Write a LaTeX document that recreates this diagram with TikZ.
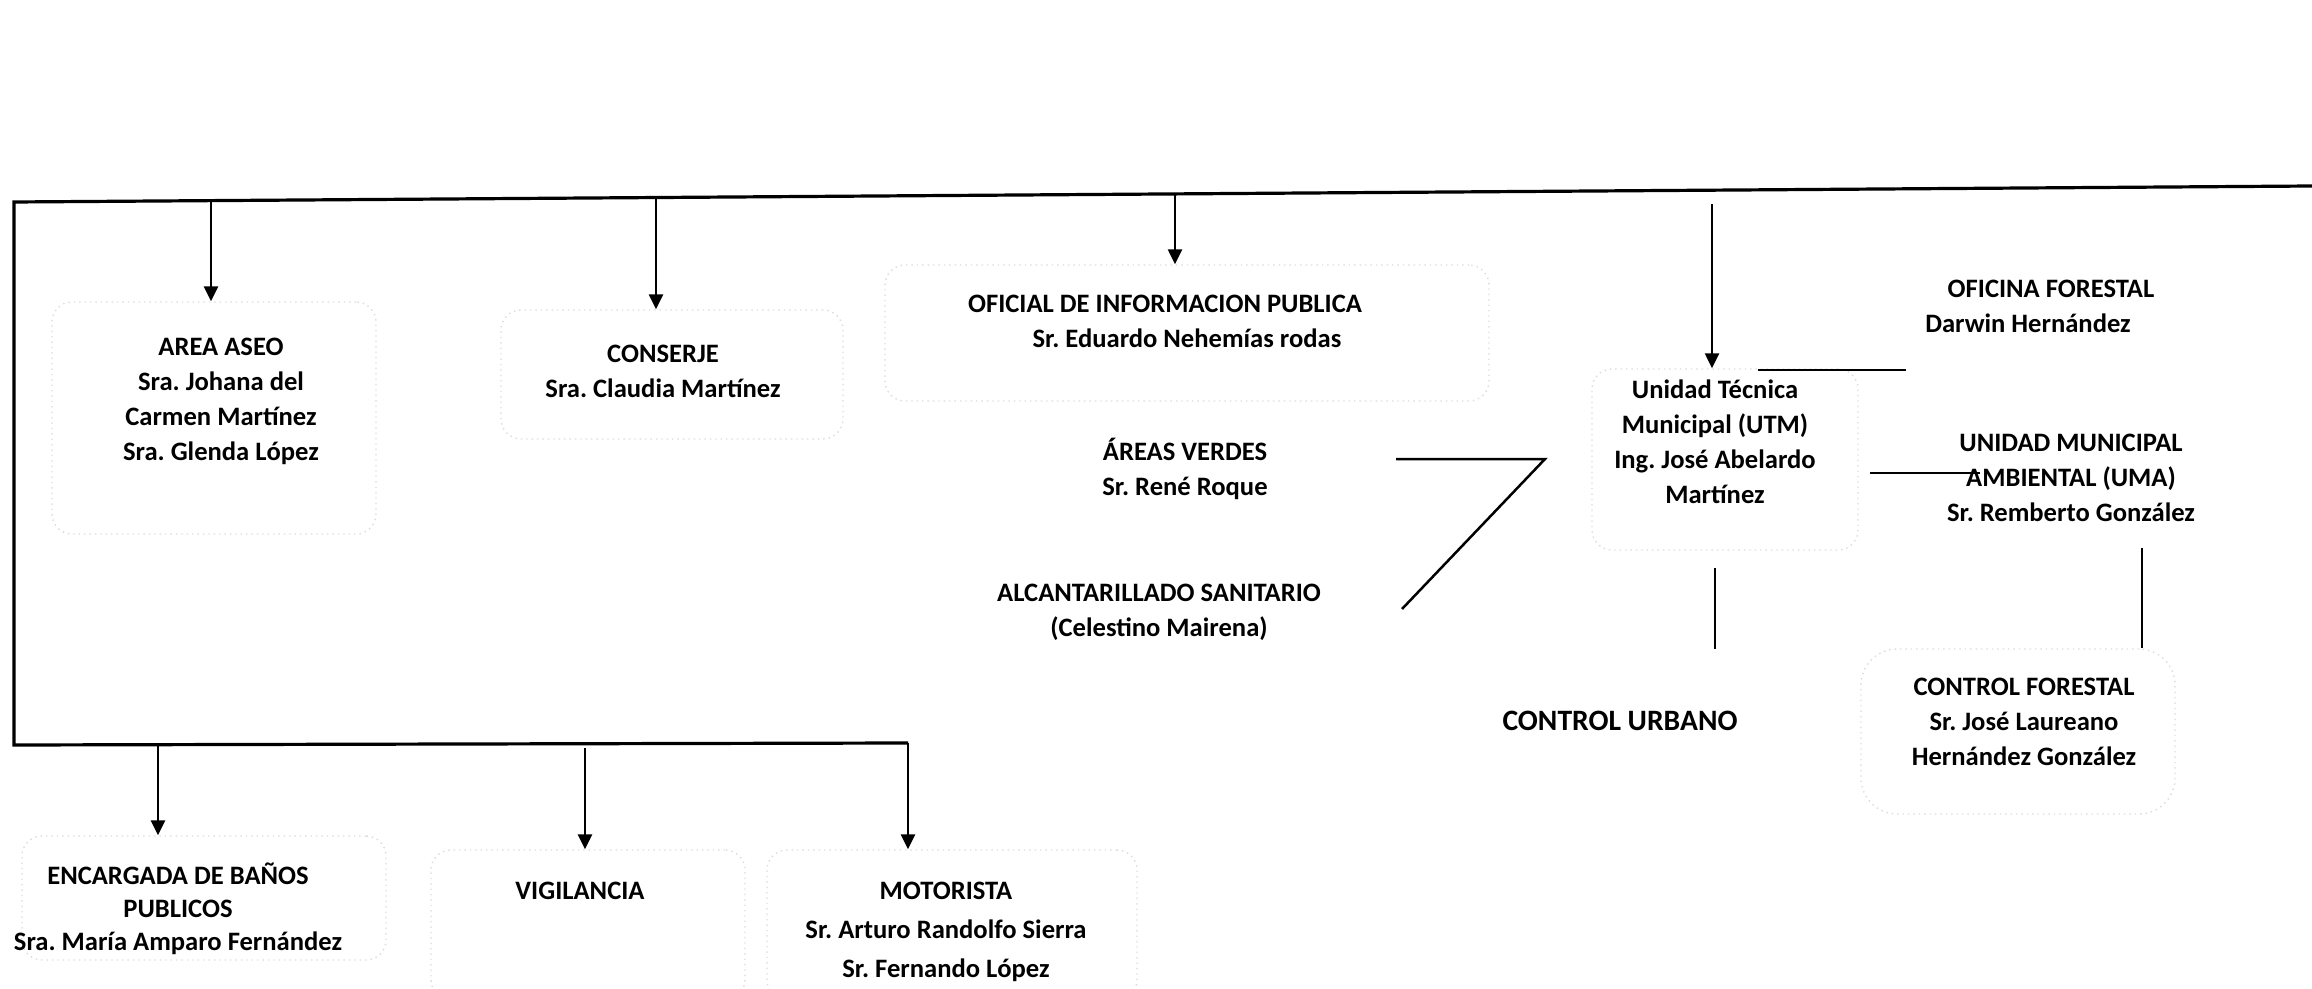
\documentclass[tikz,border=0pt]{standalone}
\usepackage{fontspec}
\setmainfont{Carlito}
\usetikzlibrary{arrows.meta}
\frenchspacing
\tikzset{
  lbl/.style={align=center, inner sep=0pt, font=\bfseries\frenchspacing\fontsize{13.3}{17.5}\selectfont},
  faint/.style={draw=black!14, dotted, line width=0.7pt, rounded corners=10pt},
  ln/.style={line width=1.25pt},
  bus/.style={line width=1.6pt},
  arr/.style={line width=1.25pt, -{Triangle[width=7pt,length=7.5pt]}}
}
\begin{document}
\begin{tikzpicture}[x=0.5pt,y=-0.5pt]
\useasboundingbox (0,0) rectangle (2312,989);
% faint boxes
\node[faint, minimum width=162pt, minimum height=116pt] (aseoB) at (214,418) {};
\node[faint, minimum width=171pt, minimum height=64.5pt] (conB) at (672,374.5) {};
\node[faint, minimum width=302pt, minimum height=68pt] (ofiB) at (1187,333) {};
\node[faint, minimum width=133pt, minimum height=90.5pt] (utmB) at (1725,459.5) {};
\node[faint, minimum width=157pt, minimum height=82.5pt, rounded corners=18pt] (cforB) at (2018,731.5) {};
\node[faint, minimum width=182pt, minimum height=62pt] (banB) at (204,898) {};
\node[faint, minimum width=157pt, minimum height=75pt] (vigB) at (588,925) {};
\node[faint, minimum width=185pt, minimum height=75pt] (motB) at (952,925) {};
% texts
\node[lbl] (aseo) at (221,401) {AREA ASEO\\Sra. Johana del\\Carmen Martínez\\Sra. Glenda López};
\node[lbl] (conserje) at (663,371) {CONSERJE\\Sra. Claudia Martínez};
\node[lbl] (oficial) at (1165,321) {OFICIAL DE INFORMACION PUBLICA\\\hspace*{22pt}Sr. Eduardo Nehemías rodas};
\node[lbl] (verdes) at (1185,469) {ÁREAS VERDES\\Sr. René Roque};
\node[lbl] (alc) at (1159,612) {ALCANTARILLADO SANITARIO\\(Celestino Mairena)};
\node[lbl] (utm) at (1715,442) {Unidad Técnica\\Municipal (UTM)\\Ing. José Abelardo\\Martínez};
\node[lbl, font=\bfseries\fontsize{14.8}{17.5}\selectfont] (urbano) at (1620,721) {CONTROL URBANO};
\node[lbl] (ofifor) at (2051,306) {OFICINA FORESTAL\\Darwin Hernández\hspace*{23pt}};
\node[lbl] (uma) at (2071,478) {UNIDAD MUNICIPAL\\AMBIENTAL (UMA)\\Sr. Remberto González};
\node[lbl] (cfor) at (2024,722) {CONTROL FORESTAL\\Sr. José Laureano\\Hernández González};
\node[lbl, font=\bfseries\frenchspacing\fontsize{13.3}{16.5}\selectfont] (banos) at (178,909) {ENCARGADA DE BAÑOS\\PUBLICOS\\Sra. María Amparo Fernández};
\node[lbl] (vig) at (580,891) {VIGILANCIA};
\node[lbl, font=\bfseries\frenchspacing\fontsize{13.3}{19.5}\selectfont] (moto) at (946,932) {MOTORISTA\\Sr. Arturo Randolfo Sierra\\Sr. Fernando López};
% bus coordinates
\coordinate (tL) at (14,202);
\coordinate (tR) at (2312,186);
\coordinate (bL) at (14,745);
\coordinate (bR) at (908,743);
\coordinate (t1) at (211,200.5);
\coordinate (t2) at (656,197.5);
\coordinate (t3) at (1175,194);
\coordinate (t4) at (1712,204);
\coordinate (b1) at (158,744.5);
\coordinate (b2) at (585,748);
% buses
\draw[bus] (tR) -- (tL) -- (bL) -- (bR);
% arrows from top bus
\draw[arr] (t1) -- (t1 |- aseoB.north);
\draw[arr] (t2) -- (t2 |- conB.north);
\draw[arr] (t3) -- (t3 |- ofiB.north);
\draw[arr] (t4) -- (t4 |- utmB.north);
% arrows from bottom bus
\draw[arr] (b1) -- (b1 |- banB.north);
\draw[arr] (b2) -- (b2 |- vigB.north);
\draw[arr] (bR) -- (bR |- motB.north);
% UTM side connectors
\coordinate (v1) at (1396,459);
\coordinate (v2) at (1545,459);
\coordinate (v3) at (1402,609);
\draw[ln] (v1) -- (v2) -- (v3);
\coordinate (f1) at (1758,370);
\coordinate (f2) at (1906,370);
\draw[ln] (f1) -- (f2);
\coordinate (m1) at (1870,473);
\coordinate (m2) at (1980,473);
\draw[ln] (m1) -- (m2);
\coordinate (u1) at (1715,568);
\coordinate (u2) at (1715,649);
\draw[ln] (u1) -- (u2);
\coordinate (c1) at (2142,548);
\draw[ln] (c1) -- (c1 |- cforB.north);
\end{tikzpicture}
\end{document}
